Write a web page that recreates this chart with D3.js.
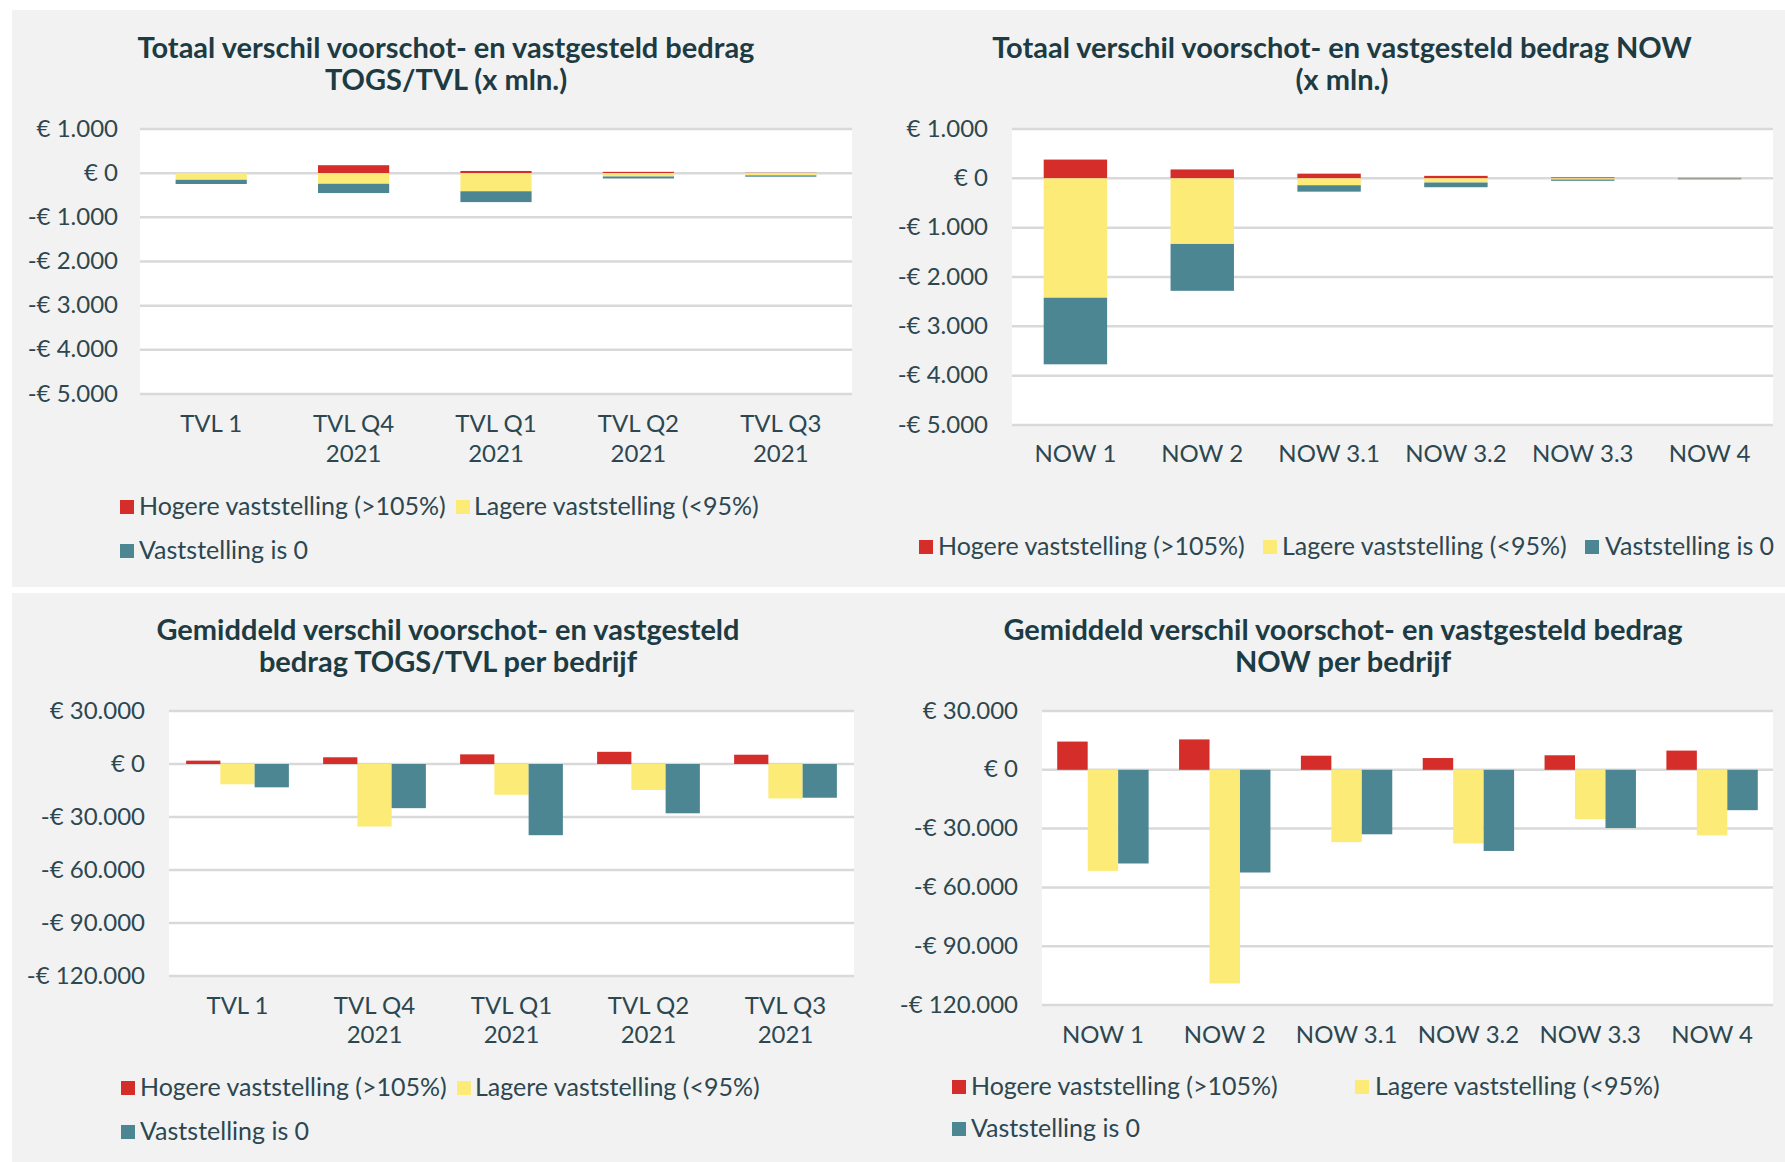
<!DOCTYPE html>
<html>
<head>
<meta charset="utf-8">
<script src="https://cdn.jsdelivr.net/npm/d3@7"></script>
<style>
  body { margin: 0; background: #ffffff; }
  svg text { font-family: Lato, "Open Sans", sans-serif; }
</style>
</head>
<body>
<div id="chart"></div>
<script>
// categories
var tvlCats = ["TVL 1", "TVL Q4\n2021", "TVL Q1\n2021", "TVL Q2\n2021", "TVL Q3\n2021"];
var nowCats = ["NOW 1", "NOW 2", "NOW 3.1", "NOW 3.2", "NOW 3.3", "NOW 4"];
var seriesNames = ["Hogere vaststelling (>105%)", "Lagere vaststelling (<95%)", "Vaststelling is 0"];

// totaal TOGS/TVL (x mln)
var tvlTotHoger = [0, 180, 50, 30, 8];
var tvlTotLager = [-150, -240, -410, -75, -50];
var tvlTotNul = [-95, -210, -245, -45, -30];

// totaal NOW (x mln)
var nowTotHoger = [380, 180, 95, 50, 20, 10];
var nowTotLager = [-2420, -1330, -140, -85, -25, -5];
var nowTotNul = [-1350, -950, -130, -95, -25, -15];

// gemiddeld per bedrijf TOGS/TVL
var tvlAvgHoger = [1900, 3800, 5450, 6900, 5250];
var tvlAvgLager = [-11500, -35400, -17400, -14700, -19500];
var tvlAvgNul = [-13200, -25000, -40300, -27900, -19100];

// gemiddeld per bedrijf NOW
var nowAvgHoger = [14400, 15500, 7200, 6000, 7400, 9800];
var nowAvgLager = [-51600, -109000, -36900, -37600, -25100, -33500];
var nowAvgNul = [-47800, -52400, -32900, -41400, -29700, -20600];

var colors = ["#d42d2a", "#fdeb77", "#4b8692"];
var textColor = "#2c4750";
var titleColor = "#1d3b43";

var nl = d3.formatLocale({decimal: ",", thousands: ".", grouping: [3], currency: ["€ ", ""]});
var num = nl.format(",d");
function euro(v) {
  return v < 0 ? "-€ " + num(-v) : "€ " + num(v);
}

var svg = d3.select("#chart").append("svg")
  .attr("width", 1785)
  .attr("height", 1162);

// panel backgrounds
svg.append("rect").attr("x", 12).attr("y", 10).attr("width", 1773).attr("height", 577).attr("fill", "#f2f2f2");
svg.append("rect").attr("x", 12).attr("y", 593).attr("width", 1773).attr("height", 569).attr("fill", "#f2f2f2");

function drawPanel(p) {
  var g = svg.append("g");

  // title
  p.title.forEach(function(line, i) {
    g.append("text")
      .attr("x", p.titleX)
      .attr("y", p.titleY[i])
      .attr("text-anchor", "middle")
      .attr("dominant-baseline", "central")
      .attr("font-size", 29)
      .attr("font-weight", "bold")
      .attr("fill", titleColor)
      .text(line);
  });

  var y = d3.scaleLinear().domain(p.domain).range([p.bottom, p.top]);
  var x = d3.scaleBand().domain(p.cats).range([p.left, p.right]);

  g.append("rect")
    .attr("x", p.left).attr("y", p.top)
    .attr("width", p.right - p.left).attr("height", p.bottom - p.top)
    .attr("fill", "#ffffff");

  var ticks = d3.range(p.domain[1], p.domain[0] - 1, -p.step);
  g.selectAll(".grid").data(ticks).join("line")
    .attr("x1", p.left).attr("x2", p.right)
    .attr("y1", function(d) { return y(d); })
    .attr("y2", function(d) { return y(d); })
    .attr("stroke", "#d9d9d9")
    .attr("stroke-width", 2.5);

  g.selectAll(".ytick").data(ticks).join("text")
    .attr("x", p.tickX)
    .attr("y", function(d) { return y(d) - 2; })
    .attr("text-anchor", "end")
    .attr("dominant-baseline", "central")
    .attr("font-size", 24)
    .attr("fill", textColor)
    .text(euro);

  var rows = p.cats.map(function(c, i) {
    return {cat: c, h: p.values[0][i], l: p.values[1][i], n: p.values[2][i]};
  });
  var keys = ["h", "l", "n"];

  if (p.stacked) {
    var stack = d3.stack().keys(keys).offset(d3.stackOffsetDiverging)(rows);
    var bw = x.bandwidth() * 0.5;
    stack.forEach(function(s, si) {
      g.selectAll(".b" + si).data(s).join("rect")
        .attr("x", function(d) { return x(d.data.cat) + (x.bandwidth() - bw) / 2; })
        .attr("width", bw)
        .attr("y", function(d) { return y(Math.max(d[0], d[1])); })
        .attr("height", function(d) { return Math.abs(y(d[0]) - y(d[1])); })
        .attr("fill", colors[si]);
    });
  } else {
    var x1 = d3.scaleBand().domain(keys).range([x.bandwidth() * 0.125, x.bandwidth() * 0.875]);
    keys.forEach(function(k, si) {
      g.selectAll(".b" + si).data(rows).join("rect")
        .attr("x", function(d) { return x(d.cat) + x1(k); })
        .attr("width", x1.bandwidth())
        .attr("y", function(d) { return y(Math.max(0, d[k])); })
        .attr("height", function(d) { return Math.abs(y(d[k]) - y(0)); })
        .attr("fill", colors[si]);
    });
  }

  // category labels
  p.cats.forEach(function(c) {
    c.split("\n").forEach(function(line, i) {
      g.append("text")
        .attr("x", x(c) + x.bandwidth() / 2)
        .attr("y", p.labelY[i])
        .attr("text-anchor", "middle")
        .attr("dominant-baseline", "central")
        .attr("font-size", 24)
        .attr("fill", textColor)
        .text(line);
    });
  });

  // legend
  p.legend.forEach(function(item, i) {
    g.append("rect")
      .attr("x", item[0]).attr("y", item[2] - 7)
      .attr("width", 14).attr("height", 14)
      .attr("fill", colors[i]);
    g.append("text")
      .attr("x", item[1])
      .attr("y", item[2] - 2)
      .attr("dominant-baseline", "central")
      .attr("font-size", 25)
      .attr("fill", textColor)
      .text(seriesNames[i]);
  });
}

drawPanel({
  title: ["Totaal verschil voorschot- en vastgesteld bedrag", "TOGS/TVL (x mln.)"],
  titleX: 446, titleY: [46, 78],
  cats: tvlCats, values: [tvlTotHoger, tvlTotLager, tvlTotNul],
  stacked: true, domain: [-5000, 1000], step: 1000,
  left: 140, right: 852, top: 129, bottom: 394, tickX: 118,
  labelY: [422, 452],
  legend: [[120, 139, 507], [456, 474, 507], [120, 139, 551]]
});

drawPanel({
  title: ["Totaal verschil voorschot- en vastgesteld bedrag NOW", "(x mln.)"],
  titleX: 1342, titleY: [46, 78],
  cats: nowCats, values: [nowTotHoger, nowTotLager, nowTotNul],
  stacked: true, domain: [-5000, 1000], step: 1000,
  left: 1012, right: 1773, top: 129, bottom: 425, tickX: 988,
  labelY: [452],
  legend: [[919, 938, 547], [1263, 1282, 547], [1585, 1605, 547]]
});

drawPanel({
  title: ["Gemiddeld verschil voorschot- en vastgesteld", "bedrag TOGS/TVL per bedrijf"],
  titleX: 448, titleY: [628, 660],
  cats: tvlCats, values: [tvlAvgHoger, tvlAvgLager, tvlAvgNul],
  stacked: false, domain: [-120000, 30000], step: 30000,
  left: 169, right: 854, top: 711, bottom: 976, tickX: 145,
  labelY: [1004, 1033],
  legend: [[121, 140, 1088], [457, 475, 1088], [121, 140, 1132]]
});

drawPanel({
  title: ["Gemiddeld verschil voorschot- en vastgesteld bedrag", "NOW per bedrijf"],
  titleX: 1343, titleY: [628, 660],
  cats: nowCats, values: [nowAvgHoger, nowAvgLager, nowAvgNul],
  stacked: false, domain: [-120000, 30000], step: 30000,
  left: 1042, right: 1773, top: 711, bottom: 1005, tickX: 1018,
  labelY: [1033],
  legend: [[952, 971, 1087], [1355, 1375, 1087], [952, 971, 1129]]
});
</script>
</body>
</html>
